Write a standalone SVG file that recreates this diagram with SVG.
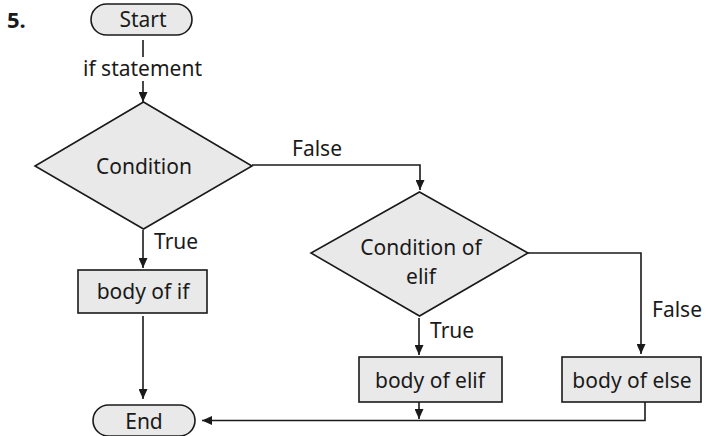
<svg xmlns="http://www.w3.org/2000/svg" width="717" height="436" viewBox="0 0 717 436">
<style>
  .shape { fill: #e9e9e9; stroke: #1a1a1a; stroke-width: 1.6; }
  .txt { font-family: "Noto Sans", "Open Sans", sans-serif; font-size: 21px; fill: #1a1a1a; }
  .c { text-anchor: middle; }
  .line { fill: none; stroke: #1a1a1a; stroke-width: 1.6; }
  .arr { marker-end: url(#ah); }
</style>
<defs>
  <marker id="ah" markerUnits="userSpaceOnUse" markerWidth="10" markerHeight="9" refX="10" refY="4.5" orient="auto">
    <path d="M0,0 L10,4.5 L0,9 z" fill="#1a1a1a"/>
  </marker>
</defs>
<rect width="717" height="436" fill="#ffffff"/>
<text x="7" y="28" class="txt" style="font-weight:bold;font-size:22px">5.</text>

<g id="connectors">
  <line class="line" x1="143" y1="40" x2="143" y2="57"/>
  <text x="142.5" y="76" class="txt c">if statement</text>
  <line class="line arr" x1="143" y1="81" x2="143" y2="102"/>
  <polyline class="line arr" points="252,165 420,165 420,190"/>
  <text x="292" y="156" class="txt">False</text>
  <line class="line arr" x1="143" y1="230" x2="143" y2="268"/>
  <text x="154" y="249" class="txt">True</text>
  <line class="line arr" x1="143" y1="316" x2="143" y2="399"/>
  <polyline class="line arr" points="528,253 641,253 641,354"/>
  <text x="652" y="317" class="txt">False</text>
  <line class="line arr" x1="419" y1="318" x2="419" y2="355"/>
  <text x="430" y="338" class="txt">True</text>
  <line class="line arr" x1="419" y1="402" x2="419" y2="419"/>
  <polyline class="line arr" points="645,402 645,420.5 202,420.5"/>
</g>

<g id="start">
  <rect class="shape" x="91" y="4" width="101" height="31" rx="15.5"/>
  <text x="143" y="27" class="txt c">Start</text>
</g>
<g id="condition">
  <polygon class="shape" points="143.5,102 252,166 143.5,229 35,166"/>
  <text x="144" y="174" class="txt c">Condition</text>
</g>
<g id="body-if">
  <rect class="shape" x="78" y="270" width="129" height="43"/>
  <text x="143" y="299" class="txt c">body of if</text>
</g>
<g id="condition-elif">
  <polygon class="shape" points="419.5,192 528,253 419.5,316 311,253"/>
  <text x="421" y="255" class="txt c">Condition of</text>
  <text x="421" y="284" class="txt c">elif</text>
</g>
<g id="body-elif">
  <rect class="shape" x="359" y="357" width="143" height="45"/>
  <text x="430" y="388" class="txt c">body of elif</text>
</g>
<g id="body-else">
  <rect class="shape" x="562" y="357" width="139" height="45"/>
  <text x="632" y="388" class="txt c">body of else</text>
</g>
<g id="end">
  <rect class="shape" x="93" y="405" width="102" height="31" rx="15.5"/>
  <text x="144" y="429" class="txt c">End</text>
</g>
</svg>
